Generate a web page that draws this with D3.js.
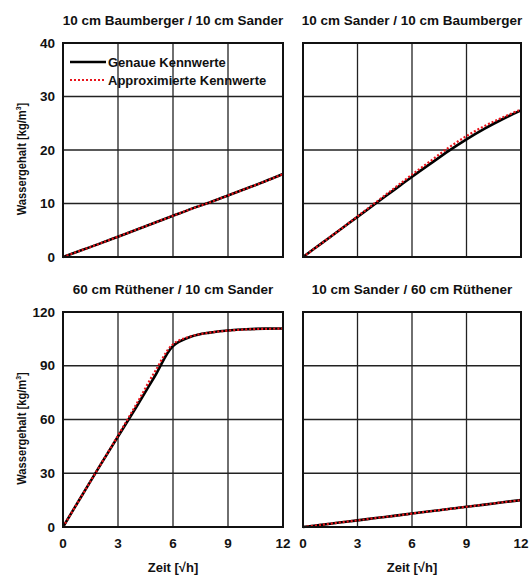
<!DOCTYPE html>
<html>
<head>
<meta charset="UTF-8">
<style>
body { margin:0; background:#fff; }
svg text { font-family: "Liberation Sans", Arial, sans-serif; font-weight: bold; fill:#111; }
.grid line { stroke:#222; stroke-width:1.3px; }
.frame { fill:none; stroke:#111; stroke-width:2px; }
.exact { fill:none; stroke:#000; stroke-width:2.6px; }
.approx { fill:none; stroke:#e8141b; stroke-width:2.2px; stroke-dasharray:2,2; }
</style>
</head>
<body>
<svg width="530" height="576"></svg>
<script src="https://cdn.jsdelivr.net/npm/d3@7"></script>
<script>
var zeit = [0, 1, 2, 3, 4, 5, 6, 7, 8, 9, 10, 11, 12];
var xTicks = [0, 3, 6, 9, 12];

var titles = ["10 cm Baumberger / 10 cm Sander", "10 cm Sander / 10 cm Baumberger",
              "60 cm Rüthener / 10 cm Sander", "10 cm Sander / 60 cm Rüthener"];
var yTicksTop = [0, 10, 20, 30, 40];
var yTicksBottom = [0, 30, 60, 90, 120];

// Wassergehalt [kg/m³]
var genau1  = [0, 1.25, 2.5, 3.8, 5.1, 6.4, 7.7, 9.0, 10.2, 11.5, 12.8, 14.1, 15.5];
var approx1 = [0, 1.25, 2.5, 3.8, 5.1, 6.4, 7.7, 9.0, 10.2, 11.5, 12.8, 14.1, 15.5];
var genau2  = [0, 2.5, 5.0, 7.5, 10.0, 12.5, 15.0, 17.4, 19.8, 22.0, 24.0, 25.8, 27.4];
var approx2 = [0, 2.5, 5.0, 7.6, 10.2, 12.8, 15.4, 17.9, 20.4, 22.6, 24.5, 26.1, 27.6];
var genau3  = [0, 17, 34, 50.5, 67, 84, 101, 106.3, 108.5, 109.7, 110.4, 110.7, 110.8];
var approx3 = [0, 17, 34, 51, 68.5, 86.5, 102, 106.5, 108.5, 109.6, 110.3, 110.6, 110.7];
var genau4  = [0, 1.2, 2.5, 3.7, 5.0, 6.2, 7.5, 8.8, 10.0, 11.3, 12.5, 13.8, 15.0];
var approx4 = [0, 1.2, 2.5, 3.7, 5.0, 6.2, 7.5, 8.8, 10.0, 11.3, 12.5, 13.8, 15.0];

var legend = ["Genaue Kennwerte", "Approximierte Kennwerte"];

var svg = d3.select("svg");

var panels = [
  {title: titles[0], left: 63,  top: 43,  w: 220, h: 214, yMax: 40,  yTicks: yTicksTop,    genau: genau1, approx: approx1, yLab: true,  xLab: false},
  {title: titles[1], left: 303, top: 43,  w: 218, h: 214, yMax: 40,  yTicks: yTicksTop,    genau: genau2, approx: approx2, yLab: false, xLab: false},
  {title: titles[2], left: 63,  top: 312, w: 220, h: 215, yMax: 120, yTicks: yTicksBottom, genau: genau3, approx: approx3, yLab: true,  xLab: true},
  {title: titles[3], left: 303, top: 312, w: 218, h: 215, yMax: 120, yTicks: yTicksBottom, genau: genau4, approx: approx4, yLab: false, xLab: true}
];

panels.forEach(function(p, i) {
  var g = svg.append("g").attr("transform", "translate(" + p.left + "," + p.top + ")");
  var x = d3.scaleLinear().domain([0, 12]).range([0, p.w]);
  var y = d3.scaleLinear().domain([0, p.yMax]).range([p.h, 0]);

  // grid
  var grid = g.append("g").attr("class", "grid");
  grid.selectAll(".gx").data(xTicks.slice(1, -1)).enter().append("line")
      .attr("x1", function(d) { return x(d); }).attr("x2", function(d) { return x(d); })
      .attr("y1", 0).attr("y2", p.h);
  grid.selectAll(".gy").data(p.yTicks.slice(1, -1)).enter().append("line")
      .attr("y1", function(d) { return y(d); }).attr("y2", function(d) { return y(d); })
      .attr("x1", 0).attr("x2", p.w);

  var line = d3.line()
      .curve(d3.curveCatmullRom.alpha(0.5))
      .x(function(d, j) { return x(zeit[j]); })
      .y(function(d) { return y(d); });

  g.append("path").attr("class", "exact").attr("d", line(p.genau));
  g.append("path").attr("class", "approx").attr("d", line(p.approx));

  g.append("rect").attr("class", "frame").attr("width", p.w).attr("height", p.h);

  g.append("text").attr("x", p.w / 2).attr("y", -18)
      .attr("text-anchor", "middle").style("font-size", "13.5px")
      .text(p.title);

  if (p.yLab) {
    g.selectAll(".yt").data(p.yTicks).enter().append("text")
        .attr("x", -8).attr("y", function(d) { return y(d); })
        .attr("dy", "0.35em").attr("text-anchor", "end")
        .style("font-size", "13.5px").text(function(d) { return d; });
    var yl = g.append("text")
        .attr("transform", "translate(-37," + (p.h / 2 + 9) + ") rotate(-90) scale(0.86,1)")
        .attr("text-anchor", "middle").style("font-size", "13px");
    yl.append("tspan").text("Wassergehalt [kg/m");
    yl.append("tspan").attr("dy", "-5").style("font-size", "8px").text("3");
    yl.append("tspan").attr("dy", "5").text("]");
  }
  if (p.xLab) {
    g.selectAll(".xt").data(xTicks).enter().append("text")
        .attr("x", function(d) { return x(d); }).attr("y", p.h + 21)
        .attr("text-anchor", "middle")
        .style("font-size", "13.5px").text(function(d) { return d; });
    g.append("text").attr("x", p.w / 2).attr("y", p.h + 45)
        .attr("text-anchor", "middle").style("font-size", "13px")
        .text("Zeit [\u221Ah]");
  }

  if (i === 0) {
    var lg = g.selectAll(".lg").data(legend).enter().append("g")
        .attr("transform", function(d, k) { return "translate(7," + (19 + k * 18) + ")"; });
    lg.append("line").attr("x1", 0).attr("x2", 36).attr("y1", 0).attr("y2", 0)
        .attr("class", function(d, k) { return k === 0 ? "exact" : "approx"; });
    lg.append("text").attr("x", 38).attr("dy", "0.35em")
        .style("font-size", "13px").text(function(d) { return d; });
  }
});
</script>
</body>
</html>
